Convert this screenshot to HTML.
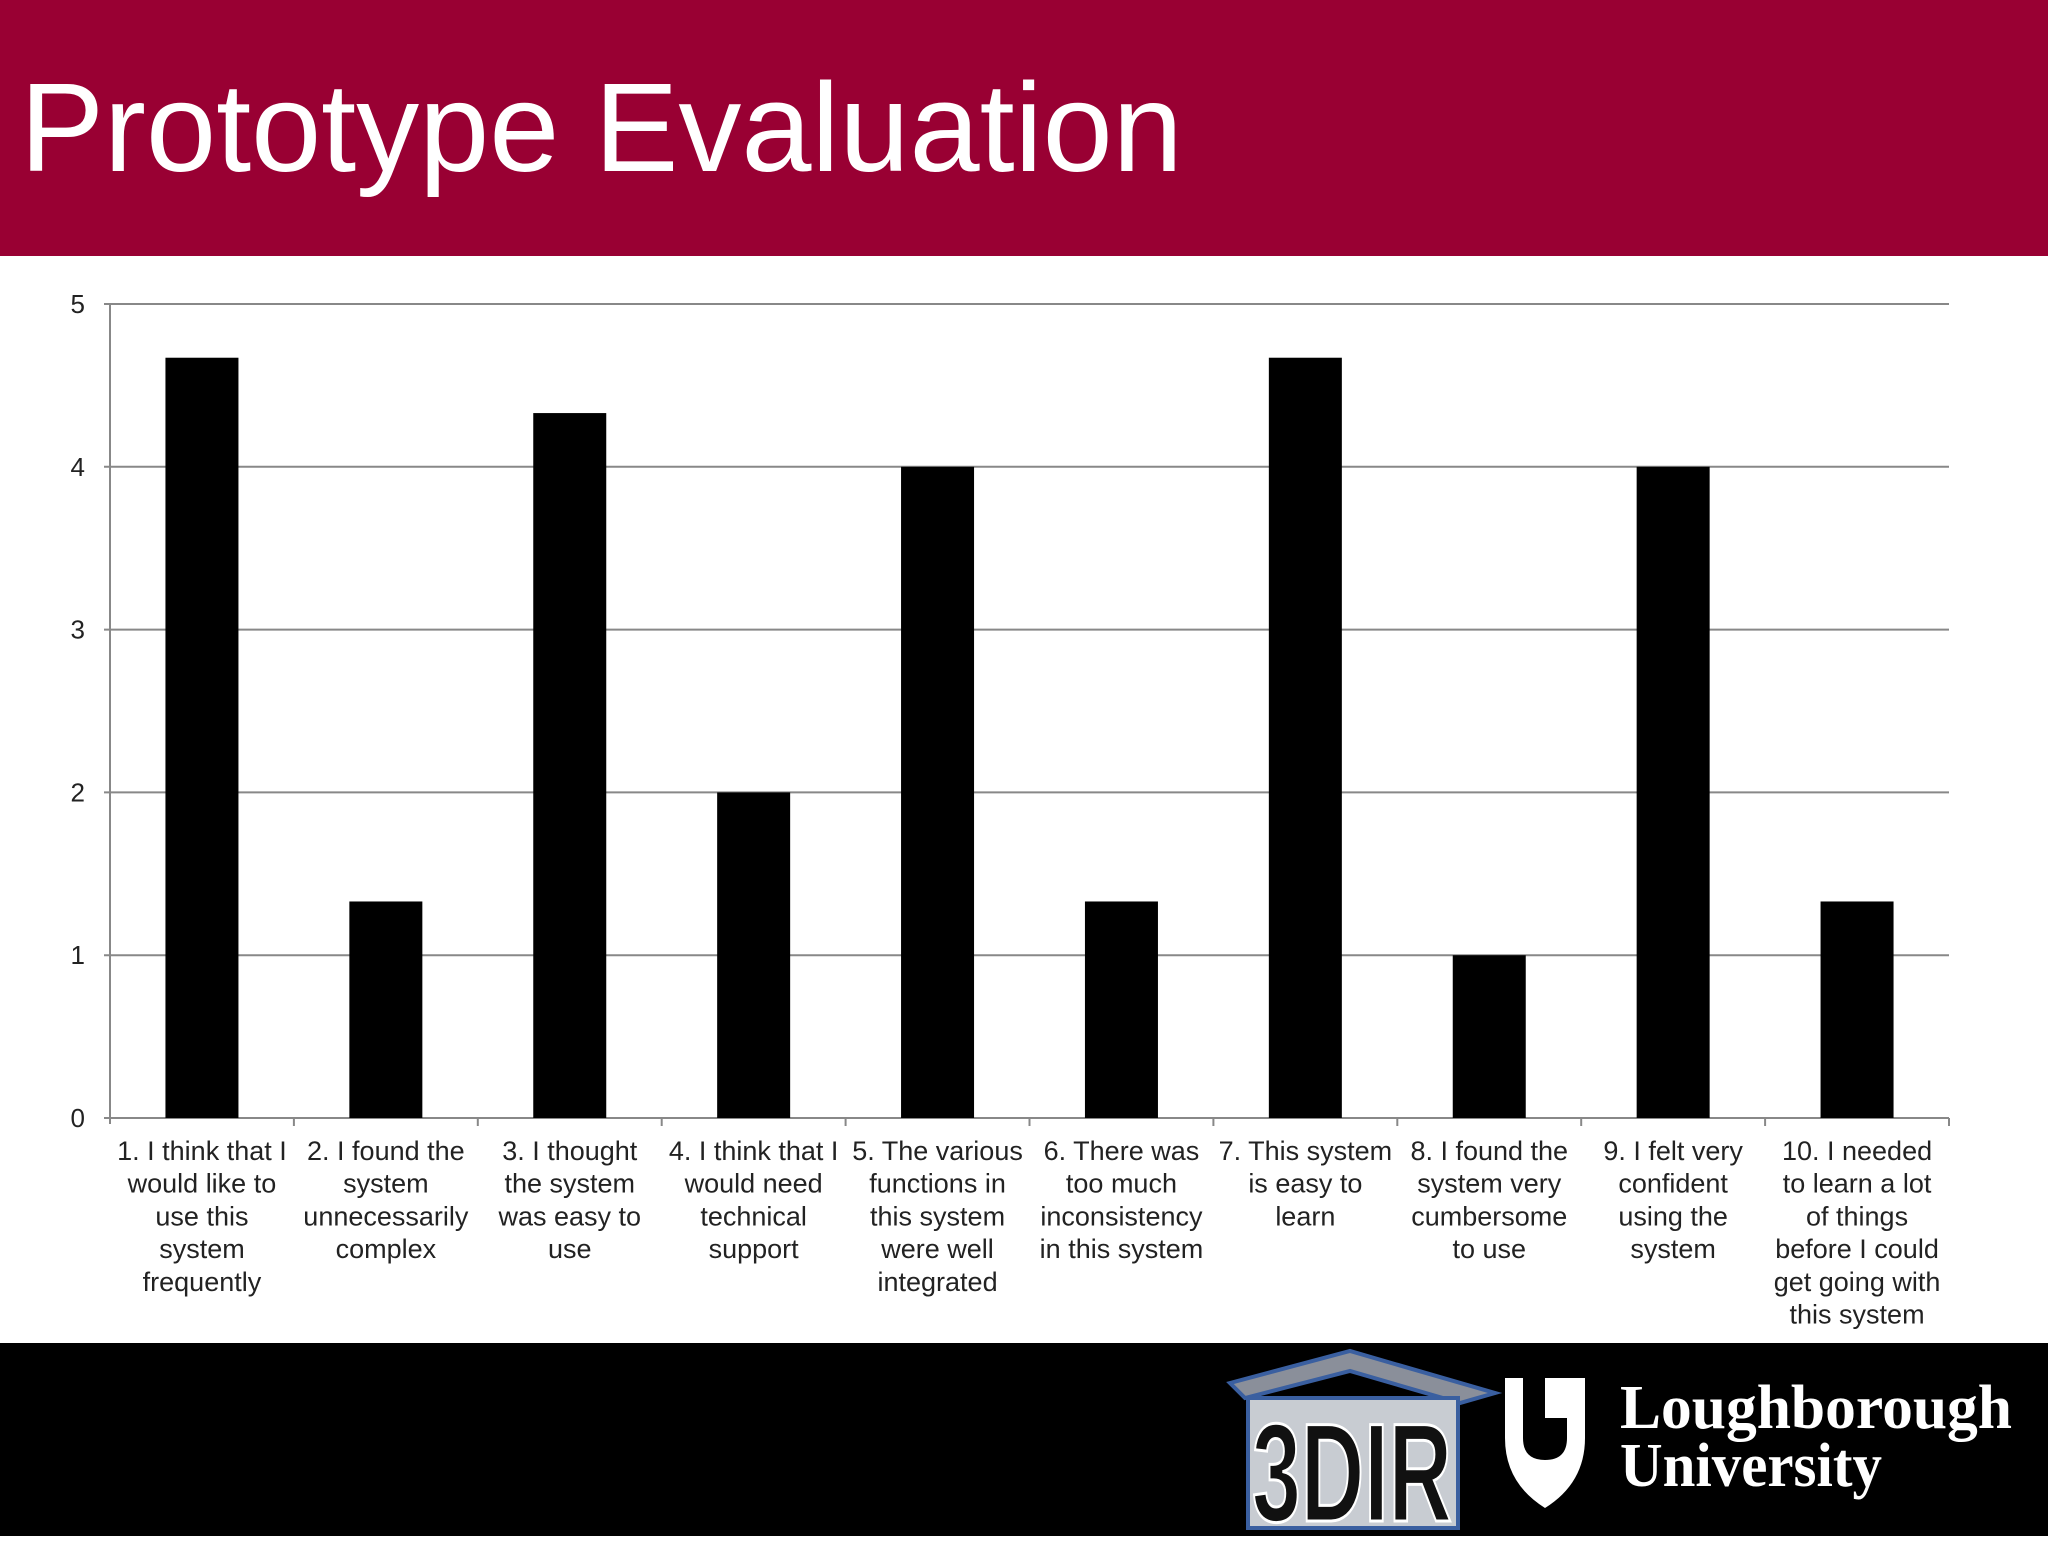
<!DOCTYPE html>
<html><head><meta charset="utf-8"><style>
body{margin:0;width:2048px;height:1536px;background:#fff;position:relative;overflow:hidden;font-family:"Liberation Sans",sans-serif}
#hdr{position:absolute;left:0;top:0;width:2048px;height:256px;background:#990033}
#title{position:absolute;left:20px;top:58px;color:#fff;font-size:126px;line-height:140px}
#ftr{position:absolute;left:0;top:1343px;width:2048px;height:193px;background:#000}
</style></head><body>
<div id="hdr"><div id="title">Prototype Evaluation</div></div>
<svg id="chart" width="2048" height="1343" style="position:absolute;left:0;top:0"></svg>
<div id="ftr">
<svg width="2048" height="193">
<g>
<polygon points="1230,40 1350,8 1495,50 1460,60 1350,28 1245,55" fill="#8a8f9a" stroke="#3a5fa0" stroke-width="4"/>
<rect x="1248" y="55" width="210" height="130" fill="#c8ccd2" stroke="#3a5fa0" stroke-width="4"/>
<text x="1252" y="178" font-size="140" font-weight="bold" fill="#111" stroke="#fff" stroke-width="3" font-family="Liberation Sans Narrow, Liberation Sans, sans-serif" textLength="200" lengthAdjust="spacingAndGlyphs">3DIR</text>
</g>
<g>
<path d="M1505,35 h18 v60 q0,22 22,22 q22,0 22,-22 v-60 h18 v60 q0,45 -40,70 q-40,-25 -40,-70z" fill="#fff"/>
<rect x="1545" y="35" width="40" height="40" fill="#fff"/>
<text x="1620" y="85" font-size="62" font-weight="bold" fill="#fff" font-family="Liberation Serif,serif" textLength="392" lengthAdjust="spacingAndGlyphs">Loughborough</text>
<text x="1620" y="143" font-size="62" font-weight="bold" fill="#fff" font-family="Liberation Serif,serif" textLength="262" lengthAdjust="spacingAndGlyphs">University</text>
</g>
</svg></div>
<script>
const categories=[["1. I think that I","would like to","use this","system","frequently"],["2. I found the","system","unnecessarily","complex"],["3. I thought","the system","was easy to","use"],["4. I think that I","would need","technical","support"],["5. The various","functions in","this system","were well","integrated"],["6. There was","too much","inconsistency","in this system"],["7. This system","is easy to","learn"],["8. I found the","system very","cumbersome","to use"],["9. I felt very","confident","using the","system"],["10. I needed","to learn a lot","of things","before I could","get going with","this system"]];
const values=[4.67,1.33,4.33,2,4,1.33,4.67,1,4,1.33];
const ticks=[0,1,2,3,4,5];
const svg=document.getElementById('chart'),NS='http://www.w3.org/2000/svg';
const x0=110,x1=1949,y0=1118,y5=304,step=(x1-x0)/categories.length,bw=73;
const Y=v=>y0-(y0-y5)*v/5;
function el(t,a){const e=document.createElementNS(NS,t);for(const k in a)e.setAttribute(k,a[k]);svg.appendChild(e);return e;}
ticks.forEach(t=>{
 const g=el('line',{x1:x0-6,x2:x1,y1:Y(t),y2:Y(t),stroke:'#888','stroke-width':2});
 
 
 const l=el('text',{x:x0-25,y:Y(t)+9,'text-anchor':'end','font-size':26,fill:'#222'});l.textContent=t;
 
 
});
el('line',{x1:x0,x2:x0,y1:y5,y2:y0+6,stroke:'#888','stroke-width':2});
values.forEach((v,i)=>{
 const cx=x0+step*(i+.5);
 const b=el('rect',{x:cx-bw/2,y:Y(v),width:bw,height:y0-Y(v),fill:'#000'});
 
 
 el('line',{x1:x0+step*(i+1),x2:x0+step*(i+1),y1:y0,y2:y0+8,stroke:'#888','stroke-width':2});
 const t=el('text',{'text-anchor':'middle','font-size':27,fill:'#222'});
 
 
 categories[i].forEach((s,j)=>{const ts=document.createElementNS(NS,'tspan');ts.setAttribute('x',cx);ts.setAttribute('y',1160+j*32.7);ts.textContent=s;t.appendChild(ts);});
});
</script>
</body></html>
